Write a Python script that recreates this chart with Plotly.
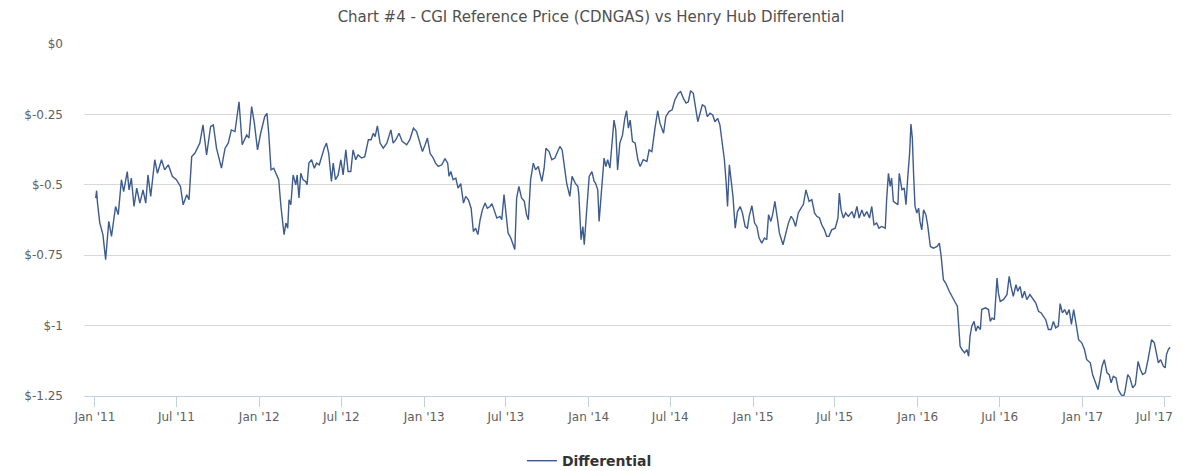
import pandas as pd
import plotly.graph_objects as go

# Days since 2011-01-01 for each observation
day_offset = [
    2, 4, 6, 11, 18, 24, 31, 37, 46, 52, 59, 64, 72, 76, 81, 87, 93, 100, 107, 113,
    118, 124, 133, 139, 148, 155, 163, 172, 181, 190, 196, 204, 209, 215, 222, 233, 240, 248, 257, 263,
    270, 281, 289, 296, 303, 311, 320, 327, 337, 342, 348, 354, 361, 368, 377, 382, 386, 391,
    397, 403, 408, 413, 420, 424, 428, 431, 435, 440, 446, 449, 453, 457, 462, 468, 471, 475, 481, 487,
    492, 498, 503, 509, 514, 519, 525, 529, 534, 540, 546, 551, 557, 562, 568, 573, 579, 584, 592, 599,
    607, 613, 618, 622, 627, 633, 640, 648, 657, 662, 668, 675, 682, 692, 699, 707, 714, 721, 727, 733,
    738, 744, 751, 756, 762, 770, 777, 783, 786, 790, 795, 801, 806, 812, 818, 823, 829, 835, 840, 845,
    850, 855, 860, 866, 871, 877, 881, 886, 892, 899, 903, 908, 912, 917, 923, 929, 932, 936, 941, 947,
    953, 958, 962, 967, 973, 978, 984, 992, 997, 1001, 1008, 1014, 1021, 1027, 1032, 1037, 1043, 1047, 1054, 1059,
    1066, 1072, 1074, 1079, 1083, 1086, 1091, 1097, 1103, 1108, 1111, 1116, 1119, 1125, 1130, 1134, 1138, 1143, 1147, 1152,
    1156, 1160, 1165, 1171, 1176, 1180, 1184, 1188, 1193, 1199, 1205, 1210, 1217, 1225, 1230, 1236, 1243, 1249, 1254, 1262,
    1267, 1274, 1281, 1287, 1295, 1300, 1306, 1312, 1317, 1322, 1328, 1333, 1338, 1343, 1348, 1354, 1359, 1365, 1371, 1376,
    1382, 1387, 1393, 1397, 1401, 1404, 1408, 1412, 1416, 1421, 1426, 1432, 1437, 1443, 1448, 1452, 1458, 1464, 1469, 1474,
    1480, 1486, 1491, 1495, 1500, 1504, 1509, 1515, 1519, 1527, 1533, 1539, 1545, 1550, 1555, 1561, 1567, 1572, 1578, 1585,
    1591, 1597, 1602, 1608, 1613, 1619, 1624, 1629, 1635, 1643, 1649, 1652, 1656, 1661, 1666, 1672, 1680, 1685, 1691, 1696,
    1702, 1707, 1713, 1719, 1724, 1729, 1735, 1740, 1746, 1754, 1757, 1761, 1765, 1768, 1772, 1777, 1782, 1785, 1791, 1796,
    1800, 1804, 1808, 1811, 1814, 1817, 1820, 1824, 1828, 1831, 1835, 1839, 1844, 1848, 1854, 1861, 1869, 1874, 1878, 1883,
    1888, 1896, 1903, 1909, 1914, 1916, 1920, 1924, 1930, 1935, 1939, 1942, 1946, 1951, 1955, 1959, 1965, 1968, 1976, 1983,
    1987, 1991, 1996, 2002, 2005, 2009, 2016, 2024, 2029, 2033, 2038, 2044, 2048, 2053, 2058, 2063, 2068, 2075, 2083, 2088,
    2094, 2100, 2105, 2110, 2116, 2122, 2127, 2132, 2138, 2142, 2147, 2152, 2157, 2162, 2167, 2172, 2177, 2183, 2190, 2196,
    2201, 2209, 2214, 2220, 2226, 2229, 2235, 2240, 2246, 2251, 2255, 2260, 2266, 2271, 2277, 2283, 2286, 2292, 2297, 2303,
    2309, 2315, 2320, 2325, 2331, 2337, 2340, 2345, 2351, 2355, 2360, 2365, 2371, 2375, 2378, 2382, 2386,
]

# Differential in $ (CGI Reference Price minus Henry Hub)
differential = [
    -0.547, -0.521, -0.565, -0.635, -0.677, -0.766, -0.630, -0.683, -0.577, -0.606, -0.482, -0.524, -0.453, -0.518, -0.476, -0.577, -0.512, -0.565, -0.518, -0.565,
    -0.465, -0.541, -0.411, -0.459, -0.411, -0.447, -0.429, -0.470, -0.482, -0.506, -0.571, -0.535, -0.553, -0.400, -0.388, -0.352, -0.287, -0.394, -0.293, -0.287,
    -0.370, -0.441, -0.370, -0.352, -0.305, -0.311, -0.205, -0.358, -0.323, -0.334, -0.222, -0.281, -0.376, -0.317, -0.258, -0.246, -0.320, -0.447,
    -0.441, -0.465, -0.482, -0.577, -0.677, -0.636, -0.654, -0.553, -0.571, -0.465, -0.500, -0.465, -0.547, -0.459, -0.482, -0.488, -0.500, -0.423, -0.411, -0.441,
    -0.423, -0.429, -0.400, -0.370, -0.352, -0.388, -0.488, -0.423, -0.482, -0.465, -0.411, -0.465, -0.376, -0.453, -0.453, -0.376, -0.411, -0.394, -0.405, -0.400,
    -0.340, -0.340, -0.317, -0.329, -0.291, -0.352, -0.370, -0.352, -0.305, -0.352, -0.340, -0.317, -0.346, -0.358, -0.340, -0.299, -0.311, -0.346, -0.382, -0.358,
    -0.334, -0.388, -0.405, -0.423, -0.435, -0.429, -0.407, -0.423, -0.470, -0.453, -0.482, -0.476, -0.512, -0.496, -0.565, -0.541, -0.553, -0.583, -0.666, -0.654,
    -0.677, -0.624, -0.589, -0.565, -0.583, -0.577, -0.567, -0.589, -0.618, -0.612, -0.624, -0.535, -0.600, -0.671, -0.689, -0.719, -0.730, -0.547, -0.506, -0.547,
    -0.559, -0.606, -0.624, -0.482, -0.423, -0.447, -0.435, -0.488, -0.441, -0.370, -0.382, -0.411, -0.405, -0.382, -0.364, -0.376, -0.447, -0.494, -0.541, -0.470,
    -0.494, -0.506, -0.535, -0.695, -0.648, -0.713, -0.600, -0.470, -0.453, -0.488, -0.494, -0.518, -0.630, -0.494, -0.405, -0.435, -0.411, -0.441, -0.352, -0.270,
    -0.305, -0.447, -0.352, -0.323, -0.264, -0.237, -0.299, -0.270, -0.346, -0.352, -0.411, -0.435, -0.411, -0.417, -0.376, -0.382, -0.299, -0.237, -0.281, -0.317,
    -0.258, -0.240, -0.234, -0.199, -0.175, -0.169, -0.193, -0.210, -0.205, -0.166, -0.175, -0.228, -0.276, -0.246, -0.216, -0.222, -0.258, -0.246, -0.252, -0.276,
    -0.264, -0.287, -0.364, -0.411, -0.494, -0.577, -0.429, -0.482, -0.541, -0.654, -0.595, -0.577, -0.600, -0.648, -0.654, -0.612, -0.574, -0.636, -0.648, -0.689,
    -0.707, -0.689, -0.695, -0.606, -0.630, -0.606, -0.559, -0.624, -0.671, -0.713, -0.671, -0.636, -0.612, -0.624, -0.648, -0.600, -0.583, -0.571, -0.518, -0.559,
    -0.553, -0.600, -0.612, -0.618, -0.642, -0.660, -0.683, -0.683, -0.660, -0.654, -0.618, -0.529, -0.589, -0.618, -0.600, -0.612, -0.595, -0.618, -0.577, -0.618,
    -0.589, -0.612, -0.595, -0.618, -0.577, -0.642, -0.636, -0.654, -0.648, -0.654, -0.553, -0.459, -0.506, -0.476, -0.559, -0.565, -0.571, -0.459, -0.518, -0.512,
    -0.571, -0.470, -0.388, -0.284, -0.334, -0.470, -0.577, -0.600, -0.583, -0.630, -0.660, -0.589, -0.606, -0.642, -0.719, -0.725, -0.719, -0.707, -0.754, -0.837,
    -0.849, -0.878, -0.902, -0.917, -0.931, -0.990, -1.073, -1.085, -1.097, -1.085, -1.109, -1.038, -1.002, -0.985, -1.020, -1.002, -1.014, -0.943, -0.937, -0.943,
    -0.985, -0.973, -0.979, -0.831, -0.884, -0.914, -0.908, -0.890, -0.825, -0.861, -0.896, -0.855, -0.878, -0.861, -0.902, -0.878, -0.908, -0.890, -0.908, -0.920,
    -0.949, -0.955, -0.967, -0.979, -1.014, -1.014, -0.985, -1.008, -1.002, -0.922, -0.955, -0.943, -0.961, -0.943, -0.996, -0.943, -0.990, -1.050, -1.061, -1.085,
    -1.121, -1.132, -1.174, -1.203, -1.227, -1.203, -1.144, -1.121, -1.168, -1.174, -1.203, -1.180, -1.186, -1.227, -1.245, -1.251, -1.233, -1.174, -1.186, -1.221,
    -1.209, -1.127, -1.156, -1.174, -1.168, -1.121, -1.091, -1.050, -1.061, -1.091, -1.132, -1.121, -1.144, -1.150, -1.103, -1.085, -1.077,
]

tick_dates = ["2011-01-01", "2011-07-01", "2012-01-01", "2012-07-01", "2013-01-01", "2013-07-01",
              "2014-01-01", "2014-07-01", "2015-01-01", "2015-07-01", "2016-01-01", "2016-07-01",
              "2017-01-01", "2017-07-01"]
tick_labels = ["Jan '11", "Jul '11", "Jan '12", "Jul '12", "Jan '13", "Jul '13", "Jan '14",
               "Jul '14", "Jan '15", "Jul '15", "Jan '16", "Jul '16", "Jan '17", "Jul '17"]
y_ticks = [0, -0.25, -0.5, -0.75, -1, -1.25]
y_labels = ["$0", "$-0.25", "$-0.5", "$-0.75", "$-1", "$-1.25"]

dates = pd.Timestamp("2011-01-01") + pd.to_timedelta(day_offset, unit="D")

FONT = "DejaVu Sans"
TICK_FONT = dict(family=FONT, size=12, color="#606060")
# the page body adds an 8px offset, so the figure is sized to fit inside it
W, H = 1175, 463

# last x label is drawn separately, nudged left so it stays inside the page
x_ticktext = tick_labels[:-1] + [""]

fig = go.Figure()
fig.add_trace(go.Scatter(
    x=dates, y=differential, mode="lines", name="Differential",
    line=dict(color="#3d5b8e", width=1.4),
))

fig.add_annotation(
    x=tick_dates[-1], xref="x", y=0, yref="paper",
    text=tick_labels[-1], showarrow=False,
    xanchor="center", yanchor="top", xshift=-10, yshift=-12,
    font=TICK_FONT,
)

fig.update_layout(
    width=W, height=H,
    margin=dict(l=76, r=12, t=36, b=75, autoexpand=False),
    paper_bgcolor="white", plot_bgcolor="white",
    font=dict(family=FONT, color="#606060", size=11),
    title=dict(
        text="Chart #4 - CGI Reference Price (CDNGAS) vs Henry Hub Differential",
        x=(591 - 8) / W, xanchor="center", y=1 - 9 / H, yanchor="middle",
        font=dict(family=FONT, size=15, color="#505050"),
    ),
    showlegend=True,
    legend=dict(
        orientation="h", x=0.465, xanchor="center", y=-0.185, yanchor="middle",
        font=dict(family=FONT, size=14, color="#333333", weight="bold"),
        bgcolor="rgba(0,0,0,0)",
    ),
    xaxis=dict(
        type="date",
        range=["2010-12-08", "2017-07-16"],
        tickvals=tick_dates, ticktext=x_ticktext,
        showgrid=False, zeroline=False,
        showline=True, linecolor="#c0d0e0", linewidth=1,
        ticks="outside", ticklen=10, tickcolor="#c0d0e0", tickwidth=1,
        tickfont=TICK_FONT,
    ),
    yaxis=dict(
        range=[-1.25, 0],
        tickvals=y_ticks, ticktext=y_labels,
        showgrid=True, gridcolor="#d8d8d8", gridwidth=1,
        zeroline=False, showline=False, ticks="",
        ticklabelstandoff=20,
        tickfont=TICK_FONT,
    ),
)

fig.write_html("out.html")
